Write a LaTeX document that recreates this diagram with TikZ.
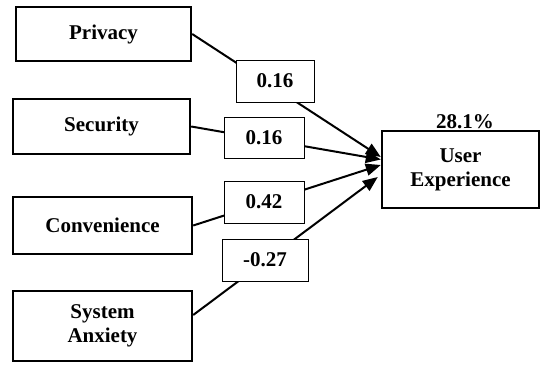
\documentclass[tikz,border=0pt]{standalone}
\usepackage{fontspec}
\setmainfont{Liberation Serif}
\usetikzlibrary{arrows.meta,calc}
\begin{document}
\begin{tikzpicture}[x=1pt,y=-1pt,
  every node/.style={font=\fontsize{21}{24}\selectfont\bfseries},
  mainbox/.style={draw,line width=2.4pt,align=center,inner sep=0pt},
  lbl/.style={draw,fill=white,line width=1pt,inner sep=0pt},
  conn/.style={line width=2pt,-{Triangle[length=15pt,width=12pt]}}]
\useasboundingbox (0,0) rectangle (541,365);
\node[mainbox,minimum width=175pt,minimum height=54pt] (priv) at (103.5,34) {Privacy};
\node[mainbox,minimum width=177pt,minimum height=55pt] (sec) at (101.5,126.5) {Security};
\node[mainbox,minimum width=179pt,minimum height=57pt] (conv) at (102.5,225.5) {Convenience};
\node[mainbox,minimum width=179pt,minimum height=70pt] (anx) at (102.5,326) {System\\Anxiety};
\node[mainbox,minimum width=157pt,minimum height=77pt] (ux) at (460.5,169.5) {User\\Experience};
\node[anchor=base] (r2) at (465,128) {28.1\%};
\draw[conn] (priv.east) -- ($(ux.west)+(0,-12.5)$);
\draw[conn] (sec.east) -- ($(ux.west)+(0,-10)$);
\draw[conn] (conv.east) -- ($(ux.west)+(0,-4.5)$);
\draw[conn] ($(anx.east)+(0,-11)$) -- ($(ux.west)+(-3,7.5)$);
\node[lbl,minimum width=78pt,minimum height=42pt] (l1) at (275,81) {0.16};
\node[lbl,minimum width=80pt,minimum height=41pt] (l2) at (264,137.5) {0.16};
\node[lbl,minimum width=80pt,minimum height=42pt] (l3) at (264,202) {0.42};
\node[lbl,minimum width=86pt,minimum height=42pt] (l4) at (265,260) {-0.27};
\end{tikzpicture}
\end{document}
